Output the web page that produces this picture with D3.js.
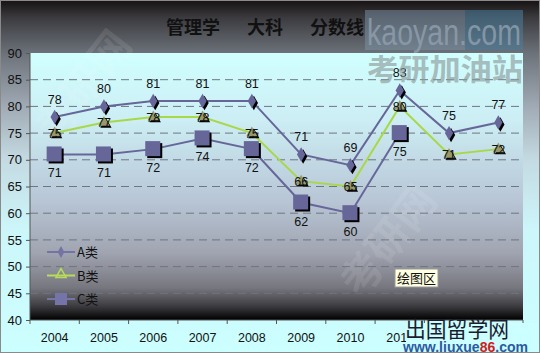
<!DOCTYPE html>
<html>
<head>
<meta charset="utf-8">
<script src="https://cdn.jsdelivr.net/npm/d3@7"></script>
<style>
  body { margin: 0; background: #fff; }
  text { font-family: "Liberation Sans", Arial, sans-serif; }
  .cjk { font-family: "Noto Sans CJK SC", sans-serif; }
</style>
</head>
<body>
<div id="chart"></div>
<script>
// data
var years = ["2004", "2005", "2006", "2007", "2008", "2009", "2010", "2011", "2012", "2013"];
var seriesA = [78, 80, 81, 81, 81, 71, 69, 83, 75, 77];
var seriesB = [75, 77, 78, 78, 75, 66, 65, 80, 71, 72];
var seriesC = [71, 71, 72, 74, 72, 62, 60, 75];
var yTicks = [40, 45, 50, 55, 60, 65, 70, 75, 80, 85, 90];
var seriesNames = ["A类", "B类", "C类"];

var W = 541, H = 355;
var margin = { top: 53, right: 18, bottom: 35, left: 30 };
var width = 523 - margin.left, height = 320 - margin.top;

var svg = d3.select("#chart").append("svg")
    .attr("width", W)
    .attr("height", H);

// gradients
var defs = svg.append("defs");
var outerGrad = defs.append("linearGradient").attr("id", "outerGrad")
    .attr("x1", 0).attr("y1", 0).attr("x2", 0).attr("y2", 1);
[[0, "#171212"], [0.05, "#3c3c40"], [0.15, "#6c727a"], [0.3, "#a0aab4"],
 [0.45, "#c4dae2"], [0.65, "#ccf6fa"], [1, "#ccffff"]].forEach(function(s) {
    outerGrad.append("stop").attr("offset", s[0]).attr("stop-color", s[1]);
});
var plotGrad = defs.append("linearGradient").attr("id", "plotGrad")
    .attr("x1", 0).attr("y1", 0).attr("x2", 0).attr("y2", 1);
[[0, "#d0ffff"], [0.25, "#cceef4"], [0.55, "#b8c6d6"], [0.75, "#a0a4b0"],
 [0.88, "#76767e"], [0.95, "#3a3a3e"], [1, "#000000"]].forEach(function(s) {
    plotGrad.append("stop").attr("offset", s[0]).attr("stop-color", s[1]);
});

// chart area
svg.append("rect")
    .attr("x", 0.5).attr("y", 0.5)
    .attr("width", 539).attr("height", 352)
    .attr("fill", "url(#outerGrad)")
    .attr("stroke", "#8a8a8a");

var g = svg.append("g")
    .attr("transform", "translate(" + margin.left + "," + margin.top + ")");

// scales
var x = d3.scaleBand().domain(years).range([0, width]);
var y = d3.scaleLinear().domain([40, 90]).range([height, 0]);
var cx = function(i) { return x(years[i]) + x.bandwidth() / 2; };

// plot area
g.append("rect")
    .attr("width", width).attr("height", height)
    .attr("fill", "url(#plotGrad)");

// faint diagonal watermarks
[[95, 95], [400, 250]].forEach(function(p) {
    g.append("text")
        .attr("class", "cjk")
        .attr("transform", "translate(" + (p[0] - margin.left) + "," + (p[1] - margin.top) + ") rotate(-52)")
        .attr("text-anchor", "middle")
        .attr("font-size", 42).attr("font-weight", "bold")
        .attr("fill", "#ffffff").attr("fill-opacity", 0.11)
        .text("考研网");
});

// gridlines
g.append("g").selectAll("line")
    .data(yTicks.filter(function(d) { return d > 40 && d < 90; }))
    .enter().append("line")
    .attr("x1", 0).attr("x2", width)
    .attr("y1", function(d) { return y(d); })
    .attr("y2", function(d) { return y(d); })
    .attr("stroke", "#6e7680")
    .attr("stroke-dasharray", "8,5");

// axes
var yAxis = g.append("g")
    .call(d3.axisLeft(y).tickValues(yTicks).tickSize(4).tickPadding(4));
yAxis.select(".domain").attr("stroke", "#555").attr("d", "M0," + height + "V0");
yAxis.selectAll(".tick line").attr("stroke", "#555");
yAxis.selectAll("text").attr("font-size", 13).attr("fill", "#111");

var xAxis = g.append("g")
    .attr("transform", "translate(0," + height + ")")
    .call(d3.axisBottom(x).tickSize(0).tickPadding(13));
xAxis.select(".domain").attr("stroke", "#555").attr("d", "M0,0H" + width);
xAxis.selectAll("text").attr("font-size", 12.5).attr("fill", "#111");
xAxis.append("g").selectAll("line")
    .data(d3.range(years.length + 1))
    .enter().append("line")
    .attr("x1", function(i) { return i * x.step(); })
    .attr("x2", function(i) { return i * x.step(); })
    .attr("y1", 0).attr("y2", 4)
    .attr("stroke", "#555");

// lines
var line = d3.line()
    .x(function(d, i) { return cx(i); })
    .y(function(d) { return y(d); });

g.append("path").datum(seriesC).attr("d", line)
    .attr("fill", "none").attr("stroke", "#666699").attr("stroke-width", 2);
g.append("path").datum(seriesB).attr("d", line)
    .attr("fill", "none").attr("stroke", "#a8d848").attr("stroke-width", 2);
g.append("path").datum(seriesA).attr("d", line)
    .attr("fill", "none").attr("stroke", "#666699").attr("stroke-width", 2);

// markers
var diamond = d3.symbol().type(d3.symbolDiamond).size(60);
var triangle = d3.symbol().type(d3.symbolTriangle).size(55);

function markers(data, cls, shape, fill) {
    var m = g.append("g").selectAll("g." + cls)
        .data(data).enter().append("g")
        .attr("transform", function(d, i) { return "translate(" + cx(i) + "," + y(d) + ")"; });
    m.append("path").attr("d", shape).attr("transform", "translate(2,2)").attr("fill", "#000");
    m.append("path").attr("d", shape).attr("fill", fill);
}
markers(seriesA, "ma", diamond(), "#666699");
markers(seriesB, "mb", triangle(), "#99996a");
// C squares
var sq = g.append("g").selectAll("g")
    .data(seriesC).enter().append("g")
    .attr("transform", function(d, i) { return "translate(" + cx(i) + "," + y(d) + ")"; });
sq.append("rect").attr("x", -6).attr("y", -6).attr("width", 15).attr("height", 15).attr("fill", "#000");
sq.append("rect").attr("x", -8).attr("y", -8).attr("width", 15).attr("height", 15).attr("fill", "#666699");

// data labels
function labels(data, dy) {
    g.append("g").selectAll("text")
        .data(data).enter().append("text")
        .attr("x", function(d, i) { return cx(i); })
        .attr("y", function(d) { return y(d) + dy; })
        .attr("text-anchor", "middle")
        .attr("font-size", 12.5)
        .attr("fill", "#111")
        .text(function(d) { return d; });
}
labels(seriesA, -13);
labels(seriesB, 4.5);
labels(seriesC, 23);

// legend
var legend = g.append("g").attr("transform", "translate(17,199)");
var legendColors = ["#7474a4", "#b8dc58", "#7474a8"];
seriesNames.forEach(function(name, i) {
    var row = legend.append("g").attr("transform", "translate(0," + (i * 23.5) + ")");
    row.append("line").attr("x1", 0).attr("x2", 28)
        .attr("stroke", legendColors[i]).attr("stroke-width", 2);
    if (i === 0) row.append("path").attr("d", d3.symbol().type(d3.symbolDiamond).size(40)())
        .attr("transform", "translate(14,0)").attr("fill", "#7474a4");
    if (i === 1) row.append("path").attr("d", d3.symbol().type(d3.symbolTriangle).size(45)())
        .attr("transform", "translate(14,-1)").attr("fill", "none").attr("stroke", "#b8dc58").attr("stroke-width", 1.5);
    if (i === 2) row.append("rect").attr("x", 8).attr("y", -6).attr("width", 12).attr("height", 12).attr("fill", "#7474a8");
    row.append("text").attr("class", "cjk").attr("x", 30).attr("y", 5)
        .attr("font-size", 13).attr("fill", "#111").text(name);
});

// tooltip box
var tip = svg.append("g").attr("transform", "translate(395,269)");
tip.append("rect").attr("width", 43).attr("height", 18)
    .attr("fill", "#ffffe1").attr("stroke", "#9a9a9a");
tip.append("text").attr("class", "cjk").attr("x", 21.5).attr("y", 14)
    .attr("text-anchor", "middle").attr("font-size", 13).attr("fill", "#111").text("绘图区");

// title
var title = svg.append("text").attr("class", "cjk")
    .attr("y", 34).attr("font-size", 18).attr("font-weight", "bold").attr("fill", "#111");
title.append("tspan").attr("x", 166).text("管理学");
title.append("tspan").attr("x", 247).text("大科");
title.append("tspan").attr("x", 310).text("分数线");

// kaoyan.com watermark
var wm = svg.append("g");
wm.append("rect").attr("x", 365).attr("y", 10).attr("width", 100).attr("height", 40)
    .attr("fill", "#7c94a8").attr("fill-opacity", 0.5);
wm.append("rect").attr("x", 465).attr("y", 10).attr("width", 58).attr("height", 40)
    .attr("fill", "#4a7e9c").attr("fill-opacity", 0.55);
wm.append("text").attr("x", 367).attr("y", 45)
    .attr("font-family", "DejaVu Sans Condensed")
    .attr("font-size", 36).attr("textLength", 154).attr("lengthAdjust", "spacingAndGlyphs")
    .attr("fill", "#8e9eac").attr("fill-opacity", 0.85).text("kaoyan.com");
wm.append("text").attr("class", "cjk").attr("x", 367).attr("y", 80)
    .attr("font-size", 30).attr("font-weight", "bold")
    .attr("textLength", 156).attr("lengthAdjust", "spacingAndGlyphs")
    .attr("fill", "#8c9898").attr("fill-opacity", 0.65).text("考研加油站");

// liuxue86 watermark
var lx = svg.append("g");
lx.append("rect").attr("x", 406).attr("y", 323).attr("width", 132).attr("height", 29).attr("fill", "#ccffff");
lx.append("text").attr("class", "cjk").attr("x", 405).attr("y", 337)
    .attr("font-size", 22).attr("textLength", 104).attr("lengthAdjust", "spacingAndGlyphs")
    .attr("fill", "#1c1c30").text("出国留学网");
var url = lx.append("text").attr("x", 403).attr("y", 352)
    .attr("font-size", 15).attr("font-weight", "bold")
    .attr("textLength", 125).attr("lengthAdjust", "spacingAndGlyphs")
    .attr("fill", "#2c5aa0");
url.append("tspan").text("www.liuxue");
url.append("tspan").attr("fill", "#d02020").text("86");
url.append("tspan").text(".com");
</script>
</body>
</html>
